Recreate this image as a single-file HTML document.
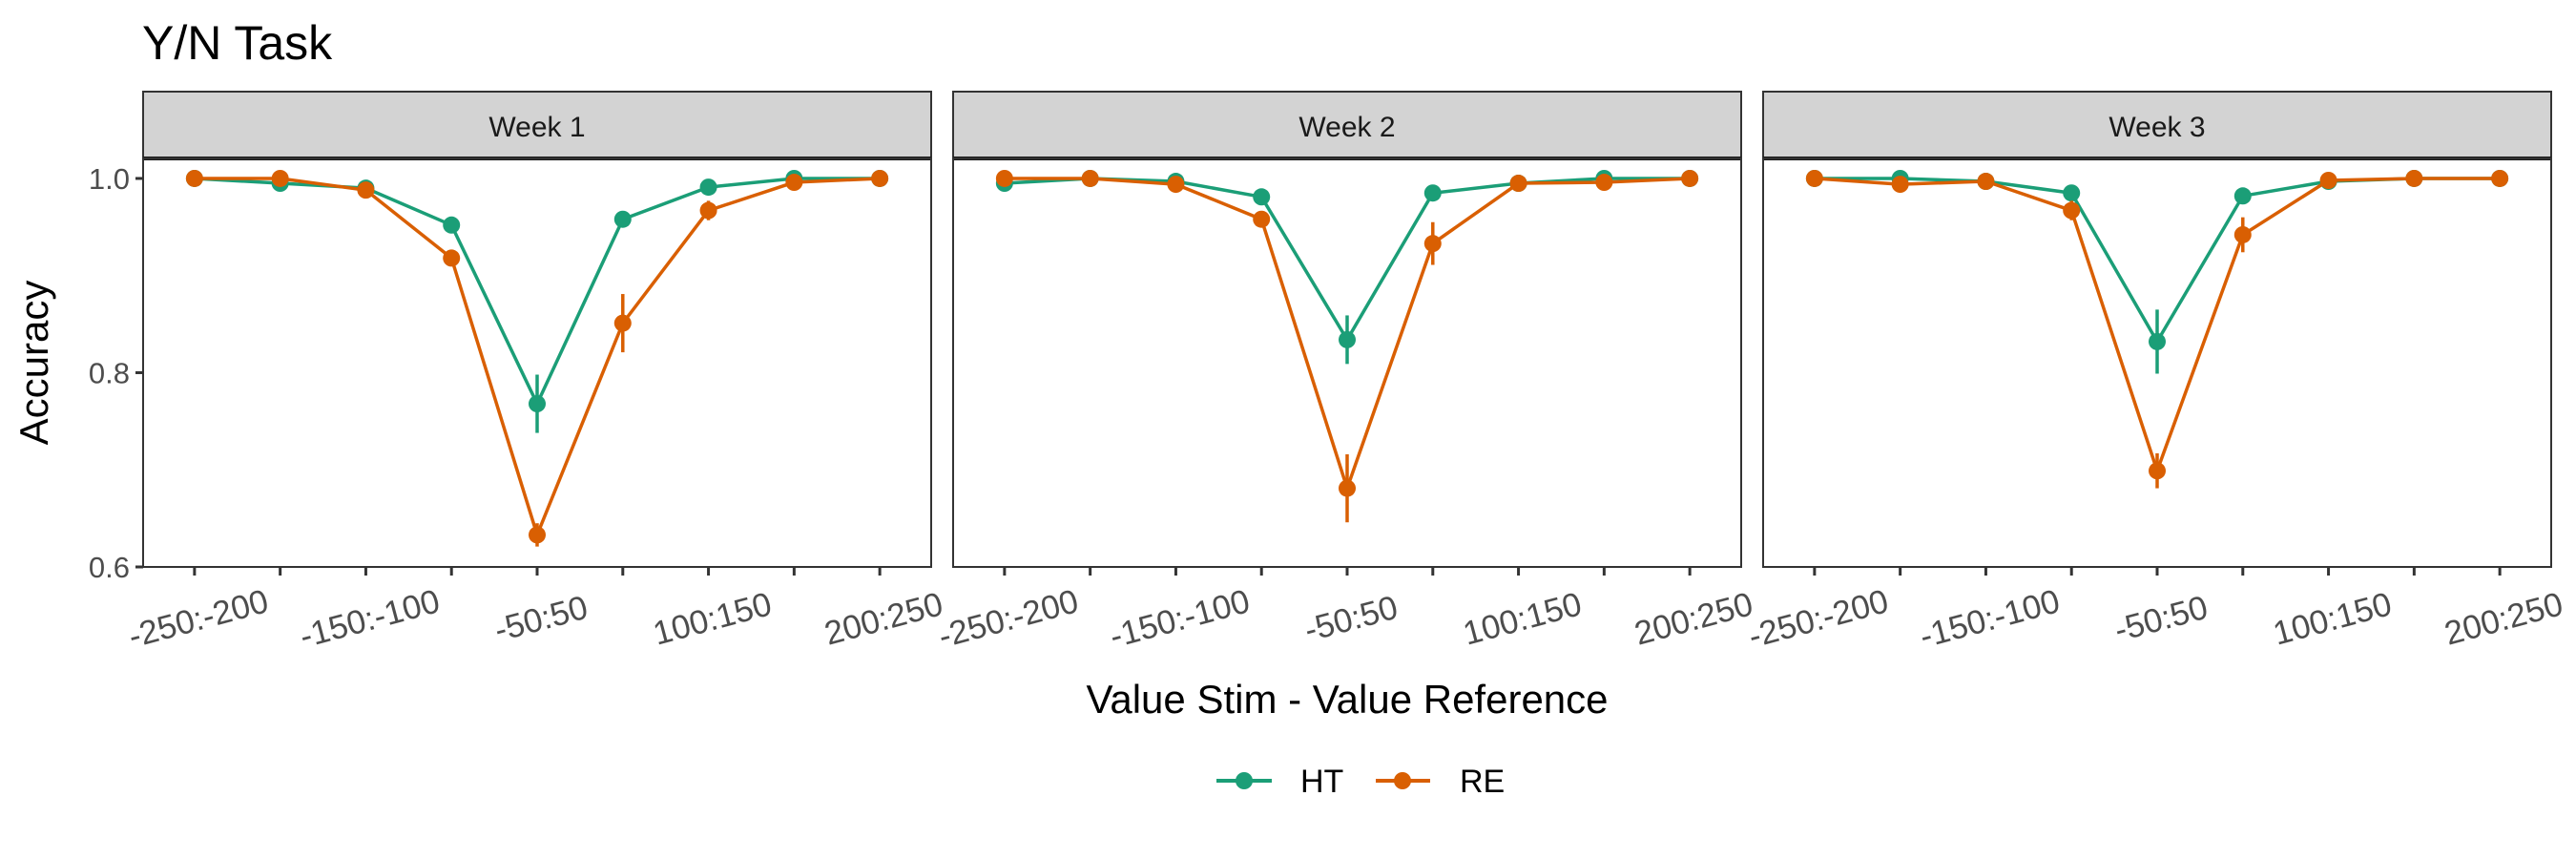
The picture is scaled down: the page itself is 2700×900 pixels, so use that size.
<!DOCTYPE html>
<html><head><meta charset="utf-8"><style>
html,body{margin:0;padding:0;background:#fff;}
svg{display:block;font-family:"Liberation Sans",Arial,sans-serif;}
</style></head><body>
<svg id="chart" width="2700" height="900" viewBox="0 0 2700 900">
<text x="149" y="62" font-size="50" fill="#000">Y/N Task</text>
<text transform="translate(50,380) rotate(-90)" text-anchor="middle" font-size="42" fill="#000">Accuracy</text>
<text x="1412" y="747" text-anchor="middle" font-size="42" fill="#000">Value Stim - Value Reference</text>
<g>
<g>
<line x1="1275" y1="818" x2="1333" y2="818" stroke="#1b9e77" stroke-width="4"/>
<circle cx="1304" cy="818" r="9" fill="#1b9e77"/>
<text x="1363" y="830" font-size="34" fill="#000">HT</text></g>
<g>
<line x1="1442" y1="818" x2="1499" y2="818" stroke="#d95f02" stroke-width="4"/>
<circle cx="1470" cy="818" r="9" fill="#d95f02"/>
<text x="1530" y="830" font-size="34" fill="#000">RE</text></g>
</g>
<g id="panels"></g>
</svg>
<script>
const categories = ["-250:-200","-200:-150","-150:-100","-100:-50","-50:50","50:100","100:150","150:200","200:250"];
const tickLabels = ["-250:-200","","-150:-100","","-50:50","","100:150","","200:250"];
const weeks = ["Week 1","Week 2","Week 3"];
const yTicks = [0.6, 0.8, 1.0];
const yTickLabels = ["0.6","0.8","1.0"];
const htW1 = [1.0,0.995,0.99,0.952,0.768,0.958,0.991,1.0,1.0];
const htW1Err = [0,0,0,0.004,0.03,0.003,0.002,0,0];
const reW1 = [1.0,1.0,0.988,0.918,0.633,0.851,0.967,0.996,1.0];
const reW1Err = [0,0,0.003,0.008,0.012,0.03,0.01,0.003,0];
const htW2 = [0.995,1.0,0.997,0.981,0.834,0.985,0.995,1.0,1.0];
const htW2Err = [0,0,0,0.005,0.025,0.003,0.002,0,0];
const reW2 = [1.0,1.0,0.994,0.958,0.681,0.933,0.995,0.996,1.0];
const reW2Err = [0,0,0.003,0.008,0.035,0.022,0.003,0.002,0];
const htW3 = [1.0,1.0,0.997,0.985,0.832,0.982,0.997,1.0,1.0];
const htW3Err = [0,0,0,0.003,0.033,0.004,0.002,0,0];
const reW3 = [1.0,0.994,0.997,0.967,0.699,0.942,0.998,1.0,1.0];
const reW3Err = [0,0.002,0.002,0.01,0.018,0.018,0.002,0,0];
const htSeries = [htW1,htW2,htW3], htErr=[htW1Err,htW2Err,htW3Err];
const reSeries = [reW1,reW2,reW3], reErr=[reW1Err,reW2Err,reW3Err];

const NS="http://www.w3.org/2000/svg";
const panelLefts=[150,999,1848], panelW=826, pTop=166, pBottom=594, stripTop=96;
const yMin=0.6, yMax=1.0206;
function yScale(v){return pBottom-(v-yMin)/(yMax-yMin)*(pBottom-pTop);}
function xScale(i,left){const step=panelW/(categories.length-1+1.2);return left+step*(0.6+i);}
function mk(tag,attrs,parent){const e=document.createElementNS(NS,tag);for(const k in attrs)e.setAttribute(k,attrs[k]);parent.appendChild(e);return e;}
const root=document.getElementById('panels');
weeks.forEach((w,p)=>{
  const L=panelLefts[p];
  const g=mk('g',{},root);
  
  
  const strip=mk('rect',{x:L,y:stripTop,width:panelW,height:pTop-stripTop,fill:'#d3d3d3',stroke:'#333','stroke-width':2},g);
  
  
  mk('line',{x1:L,x2:L+panelW,y1:pTop,y2:pTop,stroke:'#1a1a1a','stroke-width':4},g);
  const st=mk('text',{x:L+panelW/2,y:143,'text-anchor':'middle','font-size':30,fill:'#1a1a1a'},g);
  st.textContent=w;
  
  
  mk('rect',{x:L,y:pTop,width:panelW,height:pBottom-pTop,fill:'none',stroke:'#333','stroke-width':2},g);
  if(p===0){
    yTicks.forEach((t,i)=>{
      mk('line',{x1:L-8,x2:L,y1:yScale(t),y2:yScale(t),stroke:'#333','stroke-width':3},g);
      const tx=mk('text',{x:L-14,y:yScale(t)+11,'text-anchor':'end','font-size':31,fill:'#4d4d4d'},g);
      tx.textContent=yTickLabels[i];
      
      
    });
  }
  categories.forEach((c,i)=>{
    const x=xScale(i,L);
    mk('line',{x1:x,x2:x,y1:pBottom,y2:pBottom+9,stroke:'#333','stroke-width':3},g);
    if(tickLabels[i]){
      const tx=mk('text',{transform:`translate(${x+4},${pBottom+54}) rotate(-15)`,'text-anchor':'middle','font-size':35,dy:12,fill:'#4d4d4d'},g);
      tx.textContent=tickLabels[i];
      
      
    }
  });
  [[htSeries[p],htErr[p],'#1b9e77','ht'],[reSeries[p],reErr[p],'#d95f02','re']].forEach(([vals,errs,col,nm])=>{
    const pts=vals.map((v,i)=>xScale(i,L)+','+yScale(v)).join(' ');
    const ln=mk('polyline',{points:pts,fill:'none',stroke:col,'stroke-width':3.5},g);
    
    
    vals.forEach((v,i)=>{
      const x=xScale(i,L);
      if(errs[i]>0){
        const eb=mk('line',{x1:x,x2:x,y1:yScale(v-errs[i]),y2:yScale(Math.min(v+errs[i],yMax)),stroke:col,'stroke-width':3.5},g);
        
        
      }
      const c=mk('circle',{cx:x,cy:yScale(v),r:9,fill:col},g);
      
      
    });
  });
});
</script>
</body></html>
